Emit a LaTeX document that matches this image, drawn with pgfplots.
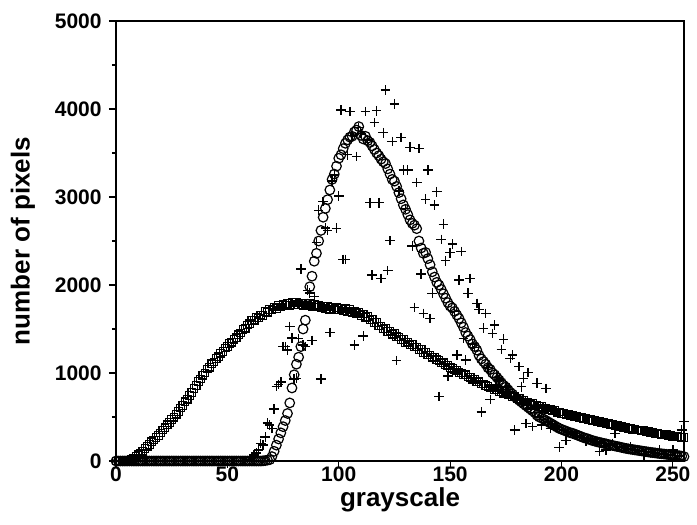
\documentclass[border=0pt]{standalone}
\usepackage{pgfplots}
\pgfplotsset{compat=1.18}
\usepackage{fontspec}
\setmainfont{Liberation Sans}
\begin{document}
\begin{tikzpicture}
\path[use as bounding box] (-58pt,-32pt) rectangle (290.5pt,230.5pt);
\begin{axis}[
 at={(0,0)}, anchor=south west,
 width=284pt, height=220pt, scale only axis,
 xmin=0, xmax=255, ymin=0, ymax=5000,
 xtick={0,50,100,150,200,250}, ytick={0,1000,2000,3000,4000,5000},
 minor y tick num=1,
 tick align=outside, tick pos=left,
 major tick length=3.5pt, minor tick length=2pt,
 axis line style={line width=0.6pt},
 tick style={line width=0.6pt, black},
 /pgf/number format/assume math mode=true,
 /pgf/number format/1000 sep={},
 ticklabel style={font=\fontsize{10.5}{12}\selectfont\bfseries, inner sep=0.5pt},
 xticklabel style={yshift=1.5pt},
 yticklabel style={xshift=-3pt},
 xlabel={grayscale}, ylabel={number of pixels},
 label style={font=\fontsize{13}{15}\selectfont\bfseries},
 xlabel style={at={(axis description cs:0.5,-0.0886)}, anchor=center},
 ylabel style={at={(axis description cs:-0.1637,0.5)}, anchor=center},
 clip=false,
]
% squares
\addplot[only marks, mark=square, mark size=1.9pt, mark options={line width=0.6pt, black}] coordinates {
(0,0)(1,0)(2,0)(3,2)(4,4)(5,6)(6,12)(7,20)(8,34)(9,50)(10,70)(11,92)(12,112)(13,140)(14,168)(15,188)(16,218)(17,238)(18,265)(19,292)(20,318)(21,352)(22,378)(23,412)(24,438)(25,472)(26,498)(27,532)(28,562)(29,602)(30,632)(31,672)(32,702)(33,745)(34,778)(35,822)(36,858)(37,905)(38,932)(39,975)(40,1000)(41,1045)(42,1065)(43,1105)(44,1125)(45,1165)(46,1185)(47,1225)(48,1245)(49,1285)(50,1300)(51,1335)(52,1350)(53,1385)(54,1400)(55,1435)(56,1455)(57,1495)(58,1510)(59,1545)(60,1560)(61,1595)(62,1600)(63,1630)(64,1625)(65,1660)(66,1655)(67,1700)(68,1690)(69,1720)(70,1715)(71,1750)(72,1735)(73,1770)(74,1750)(75,1780)(76,1765)(77,1790)(78,1770)(79,1800)(80,1780)(81,1800)(82,1775)(83,1795)(84,1770)(85,1790)(86,1765)(87,1790)(88,1760)(89,1780)(90,1750)(91,1770)(92,1745)(93,1760)(94,1735)(95,1755)(96,1725)(97,1750)(98,1720)(99,1740)(100,1715)(101,1735)(102,1705)(103,1730)(104,1700)(105,1720)(106,1690)(107,1705)(108,1675)(109,1690)(110,1655)(111,1670)(112,1635)(113,1640)(114,1605)(115,1610)(116,1575)(117,1575)(118,1535)(119,1535)(120,1500)(121,1505)(122,1470)(123,1475)(124,1440)(125,1450)(126,1415)(127,1410)(128,1380)(129,1380)(130,1345)(131,1350)(132,1320)(133,1325)(134,1295)(135,1295)(136,1265)(137,1265)(138,1235)(139,1235)(140,1205)(141,1205)(142,1180)(143,1175)(144,1150)(145,1145)(146,1120)(147,1115)(148,1090)(149,1085)(150,1060)(151,1055)(152,1035)(153,1030)(154,1005)(155,1000)(156,980)(157,980)(158,955)(159,950)(160,930)(161,925)(162,900)(163,900)(164,875)(165,875)(166,855)(167,850)(168,830)(169,830)(170,810)(171,810)(172,790)(173,790)(174,770)(175,770)(176,750)(177,750)(178,730)(179,730)(180,710)(181,710)(182,690)(183,690)(184,670)(185,670)(186,650)(187,652)(188,635)(189,636)(190,620)(191,620)(192,600)(193,602)(194,585)(195,586)(196,570)(197,572)(198,555)(199,557)(200,540)(201,542)(202,528)(203,528)(204,514)(205,515)(206,500)(207,503)(208,490)(209,491)(210,478)(211,480)(212,466)(213,468)(214,455)(215,456)(216,444)(217,445)(218,433)(219,434)(220,422)(221,423)(222,412)(223,413)(224,402)(225,403)(226,392)(227,393)(228,382)(229,383)(230,372)(231,373)(232,362)(233,363)(234,352)(235,353)(236,342)(237,343)(238,333)(239,333)(240,323)(241,322)(242,314)(243,313)(244,306)(245,305)(246,298)(247,297)(248,290)(249,289)(250,282)(251,281)(252,274)(253,273)(254,267)(255,265)
};
% circles
\addplot[only marks, mark=o, mark size=2.4pt, mark options={line width=0.6pt, black}] coordinates {
(0,0)(1,0)(2,0)(3,0)(4,0)(5,0)(6,0)(7,0)(8,0)(9,0)(10,0)(11,0)(12,0)(13,0)(14,0)(15,0)(16,0)(17,0)(18,0)(19,0)(20,0)(21,0)(22,0)(23,0)(24,0)(25,0)(26,0)(27,0)(28,0)(29,0)(30,0)(31,0)(32,0)(33,0)(34,0)(35,0)(36,0)(37,0)(38,0)(39,0)(40,0)(41,0)(42,0)(43,0)(44,0)(45,0)(46,0)(47,0)(48,0)(49,0)(50,0)(51,0)(52,0)(53,0)(54,0)(55,0)(56,0)(57,0)(58,0)(59,0)(60,0)(61,0)(62,0)(63,0)(64,0)
(65,0)(66,2)(67,5)(68,10)(69,15)(70,50)(71,110)(72,180)(73,250)(74,320)(75,390)(76,460)(77,540)(78,660)(79,830)(80,980)(81,1100)(82,1180)(83,1300)(84,1500)(85,1600)(86,1780)(87,1980)(88,2100)(89,2270)(90,2360)(91,2500)(92,2620)(93,2770)(94,2870)(95,2970)(96,3080)(97,3200)(98,3260)(99,3350)(100,3440)(101,3480)(102,3550)(103,3610)(104,3650)(105,3680)(106,3690)(107,3740)(108,3760)(109,3800)(110,3700)(111,3660)(112,3690)(113,3640)(114,3620)(115,3580)(116,3540)(117,3500)(118,3470)(119,3430)(120,3400)(121,3380)(122,3320)(123,3260)(124,3200)(125,3180)(126,3120)(127,3050)(128,2980)(129,2910)(130,2860)(131,2800)(132,2740)(133,2700)(134,2680)(135,2640)(136,2500)(137,2420)(138,2360)(139,2370)(140,2300)(141,2230)(142,2150)(143,2090)(144,2030)(145,2000)(146,1950)(147,1900)(148,1850)(149,1800)(150,1760)(151,1740)(152,1700)(153,1660)(154,1620)(155,1570)(156,1520)(157,1460)(158,1420)(159,1380)(160,1330)(161,1300)(162,1260)(163,1200)(164,1160)(165,1130)(166,1100)(167,1060)(168,1040)(169,1000)(170,980)(171,950)(172,920)(173,890)(174,860)(175,840)(176,810)(177,780)(178,760)(179,730)(180,710)(181,690)(182,670)(183,650)(184,630)(185,610)(186,590)(187,570)(188,550)(189,520)(190,500)(191,490)(192,475)(193,460)(194,445)(195,430)(196,415)(197,400)(198,385)(199,370)(200,360)(201,350)(202,340)(203,330)(204,320)(205,315)(206,305)(207,295)(208,285)(209,275)(210,265)(211,258)(212,250)(213,240)(214,232)(215,225)(216,218)(217,212)(218,206)(219,200)(220,195)(221,188)(222,182)(223,176)(224,170)(225,165)(226,160)(227,154)(228,148)(229,143)(230,138)(231,134)(232,130)(233,126)(234,122)(235,118)(236,114)(237,110)(238,106)(239,102)(240,98)(241,95)(242,92)(243,88)(244,85)(245,82)(246,79)(247,76)(248,73)(249,70)(250,68)(251,65)(252,62)(253,60)(254,55)(255,50)
};
% plus
\addplot[only marks, mark=+, mark size=2.4pt, mark options={line width=0.7pt, black}] coordinates {
(0,0)(2,0)(4,0)(6,0)(8,0)(10,0)(12,0)(14,0)(16,0)(18,0)(20,0)(22,0)(24,0)(26,0)(28,0)(30,0)(32,0)(34,0)(36,0)(38,0)(40,0)(42,0)(44,0)(46,0)(48,0)(50,0)(52,0)(54,0)(56,0)(58,0)
(60,20)(61,45)(62,70)(63,90)(64,125)(65,200)(66,180)(67,275)(68,430)(69,410)(70,370)(71,590)(72,845)(73,870)(74,900)(75,1300)(76,1300)(77,1260)(78,1530)(79,1400)(80,930)(81,940)(82,1390)(83,2180)(84,1320)(85,1300)(86,1940)(87,1910)(88,1370)(89,1870)(90,2480)(91,2850)(92,930)(93,2950)(94,2650)(95,2620)(96,1460)(97,3180)(98,3250)(99,2645)(100,3010)(101,3990)(102,2290)(103,2290)(104,3480)(105,3970)(106,3700)(107,1320)(108,3460)(109,3790)(110,3720)(111,1420)(112,3970)(113,3650)(114,2935)(115,2115)(116,3845)(117,3980)(118,2935)(119,2076)(120,3730)(121,4216)(122,2163)(123,2504)(124,3629)(125,4057)(126,1140)(127,3070)(128,3678)(129,3307)(130,2870)(131,3307)(132,3565)(133,2443)(134,1746)(135,3163)(136,3549)(137,2125)(138,1678)(139,2974)(140,3307)(141,1621)(142,1906)(143,2909)(144,3060)(145,731)(146,2519)(147,2690)(148,2276)(149,966)(150,2367)(151,2466)(152,1700)(153,1205)(154,2057)(155,2379)(156,1394)(157,1148)(158,1906)(159,2076)(160,1330)(161,1290)(162,1792)(163,1724)(164,557)(165,1508)(166,1678)(167,1060)(168,701)(169,1451)(170,1545)(171,950)(172,920)(173,1269)(174,1383)(175,840)(176,810)(177,1167)(178,1205)(179,352)(180,710)(181,1072)(182,844)(183,940)(184,428)(185,1004)(186,590)(187,390)(188,550)(189,883)(190,500)(191,409)(192,475)(193,826)(194,445)(195,371)(196,420)(197,400)(198,385)(199,156)(200,360)(201,345)(202,231)(203,330)(204,320)(205,300)(206,310)(207,290)(208,280)(209,270)(210,260)(211,220)(212,250)(213,240)(214,235)(215,220)(216,215)(217,107)(218,205)(219,200)(220,125)(221,190)(222,180)(223,201)(224,314)(225,165)(226,160)(227,150)(228,150)(229,140)(230,135)(231,163)(232,130)(233,125)(234,120)(235,118)(236,110)(237,68)(238,105)(239,100)(240,98)(241,95)(242,90)(243,88)(244,125)(245,80)(246,78)(247,76)(248,73)(249,70)(250,125)(251,65)(252,62)(253,58)(254,352)(255,447)
};
\end{axis}
\end{tikzpicture}
\end{document}
